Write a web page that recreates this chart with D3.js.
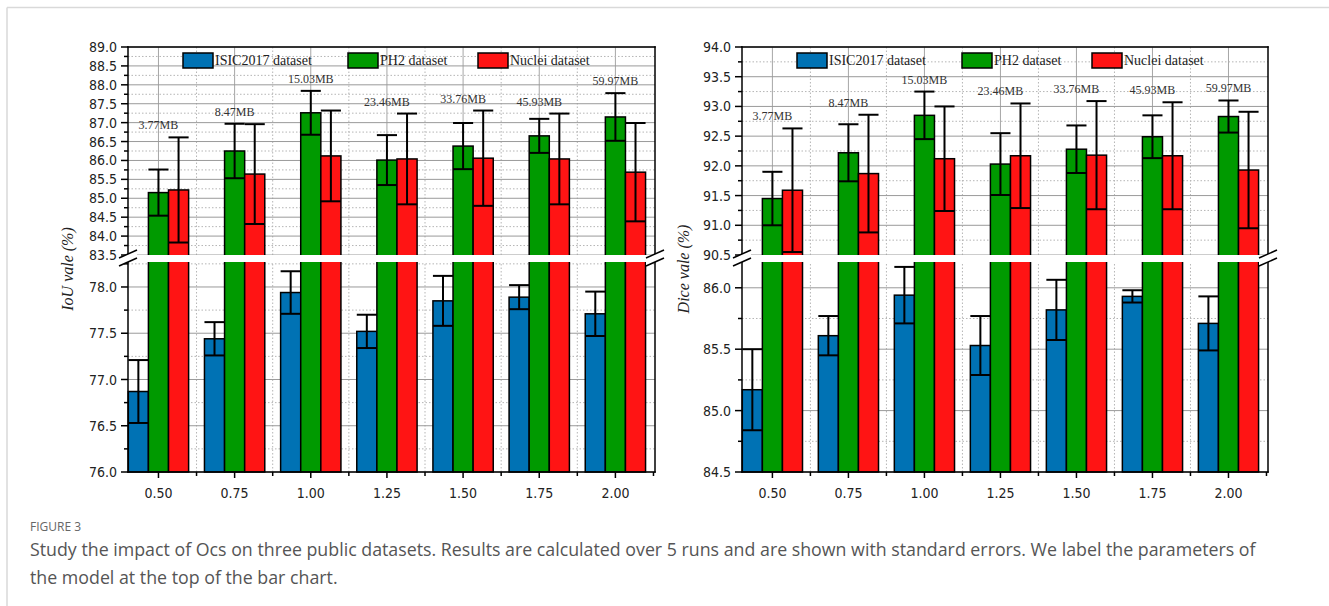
<!DOCTYPE html>
<meta charset="utf-8">
<style>
  body { margin: 0; background: #fff; }
  svg { display: block; }
  .tick-label { font-family: "DejaVu Sans Condensed", "Liberation Sans", sans-serif; font-size: 14px; fill: #222; }
  .legend-text { font-family: "Liberation Serif", serif; font-size: 14px; fill: #222; }
  .param { font-family: "Liberation Serif", serif; font-size: 12px; fill: #333; }
  .ytitle { font-family: "Liberation Serif", serif; font-style: italic; font-size: 16px; fill: #222; }
  .cap-head { font-family: "Open Sans", sans-serif; font-size: 12px; fill: #666; }
  .cap { font-family: "Open Sans", sans-serif; font-size: 17.8px; fill: #555; }
</style>
<svg id="fig" width="1329" height="606"></svg>
<script src="https://cdn.jsdelivr.net/npm/d3@7"></script>
<script>
// Ocs ratio on the x axis, model size above each group
var ratios = [0.50, 0.75, 1.00, 1.25, 1.50, 1.75, 2.00];
var params = ["3.77MB", "8.47MB", "15.03MB", "23.46MB", "33.76MB", "45.93MB", "59.97MB"];
var seriesNames = ["ISIC2017 dataset", "PH2 dataset", "Nuclei dataset"];
var seriesColors = ["#0072b4", "#009a00", "#ff1414"];

// IoU (%)
var iouIsic      = [76.87, 77.44, 77.94, 77.52, 77.85, 77.89, 77.71];
var iouIsicErr   = [0.34, 0.18, 0.23, 0.18, 0.27, 0.13, 0.24];
var iouPh2       = [85.15, 86.25, 87.26, 86.01, 86.38, 86.65, 87.15];
var iouPh2Err    = [0.61, 0.72, 0.58, 0.66, 0.61, 0.45, 0.63];
var iouNuclei    = [85.22, 85.64, 86.12, 86.04, 86.06, 86.04, 85.69];
var iouNucleiErr = [1.39, 1.32, 1.20, 1.20, 1.26, 1.20, 1.30];

// Dice (%)
var diceIsic      = [85.17, 85.61, 85.94, 85.53, 85.82, 85.93, 85.71];
var diceIsicErr   = [0.33, 0.16, 0.23, 0.24, 0.245, 0.05, 0.22];
var dicePh2       = [91.45, 92.22, 92.85, 92.03, 92.28, 92.49, 92.83];
var dicePh2Err    = [0.45, 0.48, 0.40, 0.52, 0.40, 0.36, 0.27];
var diceNuclei    = [91.59, 91.87, 92.12, 92.17, 92.18, 92.17, 91.93];
var diceNucleiErr = [1.04, 0.99, 0.88, 0.88, 0.91, 0.90, 0.98];

var svg = d3.select("#fig");

// page frame
svg.append("line").attr("x1", 7).attr("x2", 1329).attr("y1", 7.5).attr("y2", 7.5)
  .attr("stroke", "#d9d9d9").attr("stroke-width", 1.5);
svg.append("line").attr("x1", 7).attr("x2", 7).attr("y1", 7.5).attr("y2", 606)
  .attr("stroke", "#d9d9d9").attr("stroke-width", 1.5);

var plotTop = 47, breakTop = 255, breakBot = 262, plotBottom = 472;

function steps(lo, hi, step) {
  var n = Math.round((hi - lo) / step);
  return d3.range(n + 1).map(function(i) { return +(lo + i * step).toFixed(3); });
}
function isMajor(v) { return Math.abs(v * 2 - Math.round(v * 2)) < 1e-6; }

function breakMark(g, cx, cy) {
  g.append("polygon")
    .attr("points", [[cx - 9, cy - 1], [cx + 9, cy - 9], [cx + 9, cy - 1], [cx - 9, cy + 7]].join(" "))
    .attr("fill", "#fff");
  [[-1, -9], [7, -1]].forEach(function(p) {
    g.append("line").attr("x1", cx - 9).attr("y1", cy + p[0]).attr("x2", cx + 9).attr("y2", cy + p[1])
      .attr("stroke", "#000").attr("stroke-width", 1.5);
  });
}

function drawPanel(o) {
  var g = svg.append("g");
  var x = d3.scaleLinear().domain([0.4, 2.13]).range([o.x0, o.x1]);
  var yU = d3.scaleLinear().domain(o.upper).range([breakTop, plotTop]);
  var yL = d3.scaleLinear().domain(o.lower).range([plotBottom, breakBot]);
  var yv = function(v) { return v >= o.upper[0] ? yU(v) : yL(v); };
  var bw = x(0.4 + 0.066) - x(0.4);

  // grid
  var xMaj = steps(0.5, 2.0, 0.25), xMin = steps(0.625, 1.875, 0.25);
  g.selectAll(".vmaj").data(xMaj).enter().append("line")
    .attr("x1", x).attr("x2", x).attr("y1", plotTop).attr("y2", plotBottom)
    .attr("stroke", "#a6a6a6").attr("stroke-width", 1);
  g.selectAll(".vmin").data(xMin).enter().append("line")
    .attr("x1", x).attr("x2", x).attr("y1", plotTop).attr("y2", plotBottom)
    .attr("stroke", "#b5b5b5").attr("stroke-width", 1).attr("stroke-dasharray", "1.5,2");

  var upTicks = steps(o.upper[0], o.upper[1], 0.25);
  var loTicks = steps(o.lower[0], o.lower[1] - 0.1, 0.25);
  var hlines = upTicks.map(function(v) { return { y: yU(v), major: isMajor(v) }; })
    .concat(loTicks.map(function(v) { return { y: yL(v), major: isMajor(v) }; }));
  g.selectAll(".hgrid").data(hlines).enter().append("line")
    .attr("x1", o.x0).attr("x2", o.x1).attr("y1", function(d) { return d.y; }).attr("y2", function(d) { return d.y; })
    .attr("stroke", function(d) { return d.major ? "#9a9a9a" : "#b5b5b5"; })
    .attr("stroke-width", 1)
    .attr("stroke-dasharray", function(d) { return d.major ? null : "1.5,2"; });

  // bars
  var series = [
    { vals: o.isic, errs: o.isicErr, color: seriesColors[0] },
    { vals: o.ph2, errs: o.ph2Err, color: seriesColors[1] },
    { vals: o.nuc, errs: o.nucErr, color: seriesColors[2] }
  ];
  series.forEach(function(s, k) {
    ratios.forEach(function(r, i) {
      var cx = x(r) + (k - 1) * bw;
      var yTop = yv(s.vals[i]);
      g.append("rect").attr("x", cx - bw / 2).attr("y", yTop).attr("width", bw).attr("height", plotBottom - yTop)
        .attr("fill", s.color).attr("stroke", "#000").attr("stroke-width", 1.5);
    });
  });
  series.forEach(function(s, k) {
    ratios.forEach(function(r, i) {
      var cx = x(r) + (k - 1) * bw;
      var y1 = yv(s.vals[i] + s.errs[i]), y2 = yv(s.vals[i] - s.errs[i]);
      g.append("line").attr("x1", cx).attr("x2", cx).attr("y1", y1).attr("y2", y2)
        .attr("stroke", "#000").attr("stroke-width", 2);
      [y1, y2].forEach(function(yy) {
        g.append("line").attr("x1", cx - bw / 2).attr("x2", cx + bw / 2).attr("y1", yy).attr("y2", yy)
          .attr("stroke", "#000").attr("stroke-width", 2);
      });
    });
  });

  // parameter labels above each group
  ratios.forEach(function(r, i) {
    var hi = d3.min(series, function(s) { return yv(s.vals[i] + s.errs[i]); });
    g.append("text").attr("class", "param").attr("x", x(r)).attr("y", hi - 8)
      .attr("text-anchor", "middle").text(params[i]);
  });

  // break band
  g.append("rect").attr("x", o.x0 + 1).attr("y", breakTop).attr("width", o.x1 - o.x0 - 2)
    .attr("height", breakBot - breakTop).attr("fill", "#fff");

  // frame
  var frame = [[o.x0, plotTop, o.x0, plotBottom], [o.x1, plotTop, o.x1, plotBottom],
               [o.x0, plotTop, o.x1, plotTop], [o.x0, plotBottom, o.x1, plotBottom]];
  frame.forEach(function(f) {
    g.append("line").attr("x1", f[0]).attr("y1", f[1]).attr("x2", f[2]).attr("y2", f[3])
      .attr("stroke", "#000").attr("stroke-width", 1.5).attr("stroke-linecap", "square");
  });

  // y ticks
  var ticks = upTicks.map(function(v) { return { v: v, y: yU(v) }; })
    .concat(loTicks.map(function(v) { return { v: v, y: yL(v) }; }));
  ticks.forEach(function(t) {
    var major = isMajor(t.v);
    g.append("line").attr("x1", o.x0 - (major ? 7 : 4)).attr("x2", o.x0).attr("y1", t.y).attr("y2", t.y)
      .attr("stroke", "#000").attr("stroke-width", 1.5);
    if (major) {
      g.append("text").attr("class", "tick-label").attr("x", o.x0 - 11).attr("y", t.y).attr("dy", "0.36em")
        .attr("text-anchor", "end").text(d3.format(".1f")(t.v));
    }
  });

  // x ticks
  xMaj.forEach(function(v) {
    g.append("line").attr("x1", x(v)).attr("x2", x(v)).attr("y1", plotBottom).attr("y2", plotBottom + 6)
      .attr("stroke", "#000").attr("stroke-width", 1.5);
    g.append("text").attr("class", "tick-label").attr("x", x(v)).attr("y", plotBottom + 26)
      .attr("text-anchor", "middle").text(d3.format(".2f")(v));
  });
  xMin.concat([2.125]).forEach(function(v) {
    g.append("line").attr("x1", x(v)).attr("x2", x(v)).attr("y1", plotBottom).attr("y2", plotBottom + 4)
      .attr("stroke", "#000").attr("stroke-width", 1.5);
  });

  // axis breaks
  breakMark(g, o.x0, 259);
  breakMark(g, o.x1, 259);

  // legend
  var legX = [55, 220, 350];
  seriesNames.forEach(function(name, k) {
    var lx = o.x0 + legX[k];
    g.append("rect").attr("x", lx).attr("y", 53).attr("width", 30).attr("height", 15)
      .attr("fill", seriesColors[k]).attr("stroke", "#000").attr("stroke-width", 1.5);
    g.append("text").attr("class", "legend-text").attr("x", lx + 32).attr("y", 65).text(name);
  });

  // y title
  g.append("text").attr("class", "ytitle")
    .attr("transform", "translate(" + o.titleX + ",269) rotate(-90)")
    .attr("text-anchor", "middle").text(o.title);
}

drawPanel({
  x0: 128, x1: 655, upper: [83.5, 89.0], lower: [76.0, 78.27],
  isic: iouIsic, isicErr: iouIsicErr, ph2: iouPh2, ph2Err: iouPh2Err, nuc: iouNuclei, nucErr: iouNucleiErr,
  title: "IoU vale (%)", titleX: 73
});
drawPanel({
  x0: 742, x1: 1268, upper: [90.5, 94.0], lower: [84.5, 86.21],
  isic: diceIsic, isicErr: diceIsicErr, ph2: dicePh2, ph2Err: dicePh2Err, nuc: diceNuclei, nucErr: diceNucleiErr,
  title: "Dice vale (%)", titleX: 689
});

// caption
svg.append("text").attr("class", "cap-head").attr("x", 30).attr("y", 531).text("FIGURE 3");
svg.append("text").attr("class", "cap").attr("x", 30).attr("y", 556)
  .text("Study the impact of Ocs on three public datasets. Results are calculated over 5 runs and are shown with standard errors. We label the parameters of");
svg.append("text").attr("class", "cap").attr("x", 30).attr("y", 584)
  .text("the model at the top of the bar chart.");
</script>
